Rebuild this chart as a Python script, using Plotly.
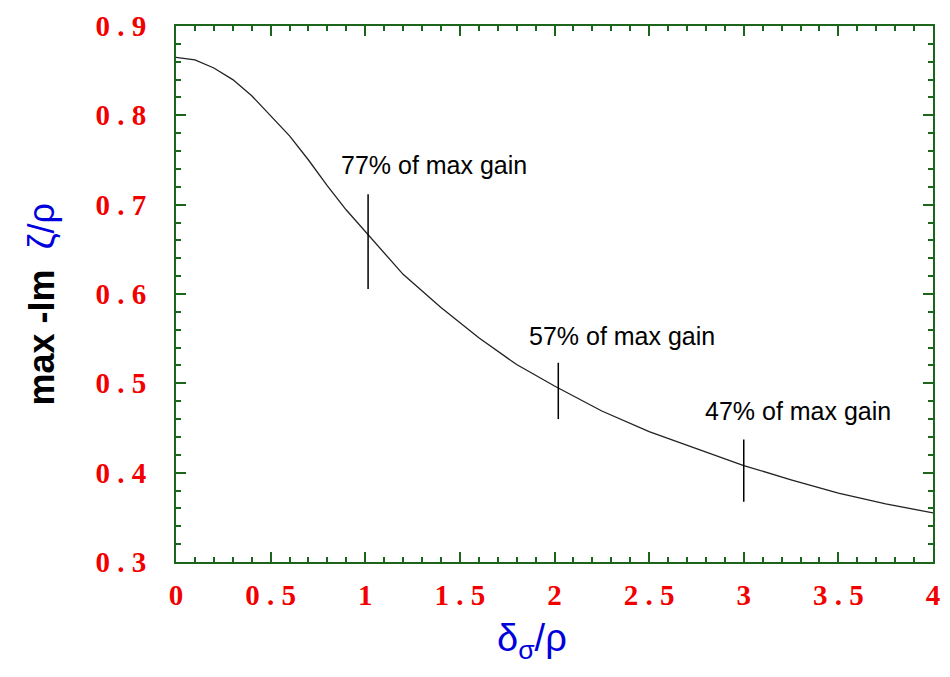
import plotly.graph_objects as go

# curve
delta_over_rho = [0, 0.1, 0.2, 0.3, 0.4, 0.5, 0.6, 0.7, 0.8, 0.9, 1.0, 1.2, 1.4, 1.6,
                  1.8, 2.0, 2.25, 2.5, 2.75, 3.0, 3.25, 3.5, 3.75, 4.0]
max_im_zeta = [0.865, 0.862, 0.853, 0.840, 0.822, 0.800, 0.777, 0.750, 0.721, 0.694,
               0.670, 0.622, 0.585, 0.551, 0.521, 0.497, 0.469, 0.446, 0.427, 0.408,
               0.392, 0.377, 0.365, 0.355]

# vertical marker bars
marker_x = [1.015, 2.02, 3.0]
marker_lo = [0.6055, 0.460, 0.3674]
marker_hi = [0.7118, 0.523, 0.437]
marker_labels = ["77% of max gain", "57% of max gain", "47% of max gain"]
label_x = [0.862, 1.853, 2.785]
label_y = [0.744, 0.5527, 0.4692]

x_tickvals = [0, 0.5, 1, 1.5, 2, 2.5, 3, 3.5, 4]
x_ticktext = ["0", "0 . 5", "1", "1 . 5", "2", "2 . 5", "3", "3 . 5", "4"]
y_tickvals = [0.3, 0.4, 0.5, 0.6, 0.7, 0.8, 0.9]
y_ticktext = ["0 . 3", "0 . 4", "0 . 5", "0 . 6", "0 . 7", "0 . 8", "0 . 9"]

GREEN = "#1b661b"
RED = "#f20000"
BLUE = "#0000dd"
TICKFONT = dict(family="Liberation Serif, Times New Roman", size=29, color=RED, weight="bold")

fig = go.Figure()
fig.add_trace(go.Scatter(x=delta_over_rho, y=max_im_zeta, mode="lines",
                         line=dict(color="#222222", width=1.3), showlegend=False,
                         hoverinfo="skip"))
for mx, lo, hi in zip(marker_x, marker_lo, marker_hi):
    fig.add_trace(go.Scatter(x=[mx, mx], y=[lo, hi], mode="lines",
                             line=dict(color="black", width=1.5), showlegend=False,
                             hoverinfo="skip"))

annotations = []
for lx, ly, txt in zip(label_x, label_y, marker_labels):
    annotations.append(dict(x=lx, y=ly, xref="x", yref="y", text=txt, showarrow=False,
                            xanchor="left", yanchor="middle",
                            font=dict(family="Liberation Sans, Arial", size=25, color="black")))

annotations.append(dict(x=-0.178, y=0.481, xref="paper", yref="paper",
                        text="<b>max -Im</b>&nbsp;&nbsp;<span style='color:" + BLUE + "'>ζ/ρ</span>",
                        textangle=-90, showarrow=False, xanchor="center", yanchor="middle",
                        font=dict(family="Liberation Sans, Arial", size=36, color="black")))
annotations.append(dict(x=0.47, y=-0.148, xref="paper", yref="paper",
                        text="δ<sub>σ</sub>/ρ", showarrow=False,
                        xanchor="center", yanchor="middle",
                        font=dict(family="Liberation Sans, Arial", size=38, color=BLUE)))

axis_common = dict(showgrid=False, zeroline=False, showline=True, linecolor=GREEN,
                   linewidth=2, mirror="ticks", ticks="inside", ticklen=10,
                   tickwidth=1.5, tickcolor=GREEN, tickfont=TICKFONT)

fig.update_layout(
    width=950, height=677,
    margin=dict(l=176, r=10, t=17, b=115),
    paper_bgcolor="white", plot_bgcolor="white",
    xaxis=dict(range=[0, 4], tickvals=x_tickvals, ticktext=x_ticktext,
               minor=dict(dtick=0.1, tick0=0, ticks="inside", ticklen=5, tickcolor=GREEN, tickwidth=1.5),
               ticklabelstandoff=6, **axis_common),
    yaxis=dict(range=[0.3, 0.9], tickvals=y_tickvals, ticktext=y_ticktext,
               minor=dict(dtick=0.02, tick0=0.3, ticks="inside", ticklen=5, tickcolor=GREEN, tickwidth=1.5),
               ticklabelstandoff=22, **axis_common),
    annotations=annotations,
)

fig.write_html("out.html")
